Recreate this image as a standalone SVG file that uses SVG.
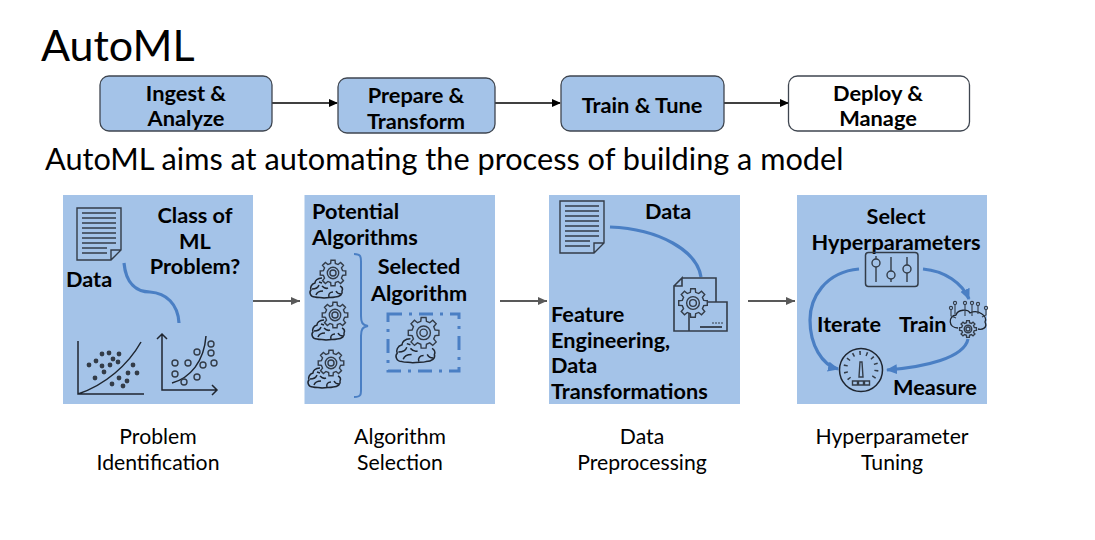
<svg xmlns="http://www.w3.org/2000/svg" xmlns:xlink="http://www.w3.org/1999/xlink" width="1095" height="540" viewBox="0 0 1095 540">
<style>
text{font-family:"Lato","Carlito","Liberation Sans",sans-serif;fill:#000}
.b{font-weight:700;font-size:21.700px}
.s{font-weight:700;font-size:21.800px}
.m{text-anchor:middle}
.c{font-size:21.200px}
.step{fill:#a4c3e8;stroke:#3f4650;stroke-width:1.300}
.panel{fill:#a4c3e8}
.con{fill:none;stroke:#000;stroke-width:1.400}
.con2{fill:none;stroke:#595959;stroke-width:1.800}
.blue{fill:none;stroke:#4a7fc4;stroke-width:3.200}
.ic{fill:none;stroke:#333c48;stroke-width:1.400}
.bk{fill:none;stroke:#1f2630;stroke-width:1.500;vector-effect:non-scaling-stroke}
.g{fill:#a4c3e8;stroke:#333c48;stroke-width:1.400;vector-effect:non-scaling-stroke}
.gn{fill:none;stroke:#333c48;stroke-width:1.400;vector-effect:non-scaling-stroke}
</style>
<defs>
<marker id="ah" markerWidth="9" markerHeight="9" refX="8" refY="4" orient="auto" markerUnits="userSpaceOnUse"><path d="M0 0L9 4L0 8Z" fill="#000"/></marker>
<marker id="ag" markerWidth="10" markerHeight="9" refX="9" refY="4" orient="auto" markerUnits="userSpaceOnUse"><path d="M0 0L9 4L0 8Z" fill="#595959"/></marker>
<marker id="ab" markerWidth="12" markerHeight="11" refX="10" refY="5" orient="auto" markerUnits="userSpaceOnUse"><path d="M0 0L11 5L0 10Z" fill="#4a7fc4"/></marker>
<g id="doc">
<path class="ic" d="M0 0H44V42L34 52H0Z M44 42H34V52"/>
<path class="ic" d="M5 5H39M5 10H39M5 15H39M5 20H39M5 25H39M5 30H39M5 35H39M5 40H30M5 45H30"/>
</g>
<g id="gear">
<path class="g" d="M12.600-3.100L16.800-2.700L16.800 2.700L12.600 3.100L11.100 6.700L13.800 10L10 13.800L6.700 11.100L3.100 12.600L2.700 16.800L-2.700 16.800L-3.100 12.600L-6.700 11.100L-10 13.800L-13.800 10L-11.100 6.700L-12.600 3.100L-16.800 2.700L-16.800-2.700L-12.600-3.100L-11.100-6.700L-13.800-10L-10-13.800L-6.700-11.100L-3.100-12.600L-2.700-16.800L2.700-16.800L3.100-12.600L6.700-11.100L10-13.800L13.800-10L11.100-6.700Z"/>
<circle r="7.500" class="gn"/><circle r="4" class="gn"/>
</g>
<g id="brain">
<path class="bk" d="M12-16C7-16 5-13 5-11C1-10 0-6 1-4C-1-2 0 3 5 3C8 4 12 3 14 4C18 3 22 4 25 3C30 3 33 0 32-3C33-5 32-7 30-8"/>
<path class="bk" d="M2-5C5-5 8-6 9-9M6 1C7-2 10-3 13-3M12-8C14-6 16-5 18-6M19 3C18 0 20-2 23-2M26-3C27-1 29 0 31 0M9-12L12-11"/>
<use xlink:href="#gear" transform="translate(23,-21) scale(.76)"/>
</g>
</defs>

<text x="41" y="61" style="font-size:43px">AutoML</text>
<text x="45" y="170" style="font-size:30.700px">AutoML aims at automating the process of building a model</text>

<g id="connectors">
<path class="con" d="M272 103H337" marker-end="url(#ah)"/>
<path class="con" d="M495 103H560" marker-end="url(#ah)"/>
<path class="con" d="M724 103H788" marker-end="url(#ah)"/>
<path class="con2" d="M253 301H300" marker-end="url(#ag)"/>
<path class="con2" d="M500 301H547" marker-end="url(#ag)"/>
<path class="con2" d="M748 301H795" marker-end="url(#ag)"/>
</g>

<g id="step-ingest"><rect class="step" x="100" y="76" width="172" height="55" rx="9"/>
<text class="s m" x="186" y="100.500">Ingest &amp;</text><text class="s m" x="186" y="126">Analyze</text></g>
<g id="step-prepare"><rect class="step" x="338" y="78" width="157" height="55" rx="9"/>
<text class="s m" x="416" y="102.500">Prepare &amp;</text><text class="s m" x="416" y="128.500">Transform</text></g>
<g id="step-train"><rect class="step" x="561" y="76" width="163" height="55" rx="9"/>
<text class="s m" x="642" y="112.500">Train &amp; Tune</text></g>
<g id="step-deploy"><rect x="788.500" y="76" width="181" height="55" rx="9" fill="#fff" stroke="#3f4650" stroke-width="1.300"/>
<text class="s m" x="878" y="100.500">Deploy &amp;</text><text class="s m" x="878" y="126">Manage</text></g>

<g id="panel-problem">
<rect class="panel" x="63" y="195" width="190" height="209"/>
<use xlink:href="#doc" x="77" y="208"/>
<text class="b m" x="195" y="223">Class of</text><text class="b m" x="195" y="249">ML</text><text class="b m" x="195" y="274">Problem?</text>
<text class="b" x="66" y="287">Data</text>
<path class="blue" d="M124 263C126 284 137 292 150 292C166 293 178 304 179 323"/>
<path d="M78 341V394H144M78 394C105 385 128 365 141 342" fill="none" stroke="#1f2630" stroke-width="1.500"/>
<g fill="#333c48"><circle cx="89" cy="365" r="2.400"/><circle cx="96" cy="361" r="2.400"/><circle cx="102" cy="354" r="2.400"/><circle cx="109" cy="353" r="2.400"/><circle cx="119" cy="354" r="2.400"/><circle cx="113" cy="359" r="2.400"/><circle cx="102" cy="366" r="2.400"/><circle cx="110" cy="365" r="2.400"/><circle cx="118" cy="362" r="2.400"/><circle cx="104" cy="372" r="2.400"/><circle cx="95" cy="378" r="2.400"/><circle cx="133" cy="365" r="2.400"/><circle cx="128" cy="373" r="2.400"/><circle cx="137" cy="373" r="2.400"/><circle cx="119" cy="378" r="2.400"/><circle cx="127" cy="381" r="2.400"/><circle cx="112" cy="384" r="2.400"/><circle cx="123" cy="386" r="2.400"/></g>
<path d="M162 334V390H217M157 339L162 334L167 339M212 385L217 390L212 395M172 383C190 378 204 362 206 336" fill="none" stroke="#1f2630" stroke-width="1.500"/>
<g fill="none" stroke="#333c48" stroke-width="1.400"><circle cx="211" cy="344" r="3"/><circle cx="197" cy="352" r="3"/><circle cx="211" cy="353" r="3"/><circle cx="175" cy="363" r="3"/><circle cx="188" cy="363" r="3"/><circle cx="203" cy="365" r="3"/><circle cx="214" cy="363" r="3"/><circle cx="175" cy="374" r="3"/><circle cx="197" cy="377" r="3"/><circle cx="184" cy="382" r="3"/></g>
</g>

<g id="panel-algorithm">
<rect class="panel" x="304.500" y="195" width="190.500" height="209"/>
<text class="b" x="312" y="219">Potential</text><text class="b" x="312" y="245">Algorithms</text>
<text class="b m" x="419" y="274">Selected</text><text class="b m" x="419" y="301">Algorithm</text>
<use xlink:href="#brain" x="310" y="294"/>
<use xlink:href="#brain" x="312" y="336"/>
<use xlink:href="#brain" x="308" y="384"/>
<path d="M354 254C362 254 361 258 361 265V316C361 322 362 325 368 326C362 327 361 330 361 336V386C361 394 362 397 354 397" fill="none" stroke="#4a7fc4" stroke-width="2"/>
<rect x="388" y="314" width="71" height="57" fill="none" stroke="#4a7fc4" stroke-width="3" stroke-dasharray="14 7 3 7"/>
<use xlink:href="#brain" transform="translate(396,358) scale(1.200)"/>
</g>

<g id="panel-preprocess">
<rect class="panel" x="549" y="195" width="191" height="209"/>
<use xlink:href="#doc" x="560" y="201"/>
<text class="b" x="645" y="219">Data</text>
<path class="blue" d="M610 227C660 229 697 251 701 277"/>
<path class="ic" d="M682 278H716V302M674 286L682 278V286H674V331H689M689 302H727V331H689Z" style="stroke-width:1.600"/>
<use xlink:href="#gear" transform="translate(693,303) scale(.85)"/>
<path class="ic" d="M700 327H722" style="stroke-width:1.800"/><path d="M712 323H723" stroke="#333c48" stroke-width="1" stroke-dasharray="2 1" fill="none"/>
<text class="b" x="551" y="322">Feature</text><text class="b" x="551" y="348">Engineering,</text><text class="b" x="551" y="373">Data</text><text class="b" x="551" y="399">Transformations</text>
</g>

<g id="panel-tuning">
<rect class="panel" x="797" y="195" width="190" height="209"/>
<text class="b m" x="896" y="224">Select</text><text class="b m" x="896" y="250">Hyperparameters</text>
<rect x="865.500" y="252.500" width="52.500" height="34" rx="3" fill="none" stroke="#333c48" stroke-width="1.500"/>
<path class="ic" d="M876 256V259M876 267V282M891 257V271M891 279V282M907 257V265M907 273V282"/><circle class="ic" cx="876" cy="263" r="4"/><circle class="ic" cx="891" cy="275" r="4"/><circle class="ic" cx="907" cy="269" r="4"/>
<path class="blue" d="M859 269C825 272 810 298 810 320C810 345 822 365 838 369" marker-end="url(#ab)"/>
<path class="blue" d="M923 269C945 271 962 283 969 299" marker-end="url(#ab)"/>
<path class="blue" d="M968 339C964 358 925 367 887 370" marker-end="url(#ab)"/>
<text class="b" x="817" y="332">Iterate</text><text class="b" x="899" y="332">Train</text><text class="b" x="893" y="395">Measure</text>
<circle cx="861" cy="370" r="21.500" fill="none" stroke="#1f2630" stroke-width="1.500"/>
<path d="M849.600 379A15.500 15.500 0 1 1 872.400 379" fill="none" stroke="#333c48" stroke-width="4" stroke-dasharray="1.500 5.300"/>
<path class="ic" d="M859 377L860 362H862L863 377Z"/><path class="ic" d="M852.500 381H857.500V385H852.500ZM858.500 381H863.500V385H858.500ZM864.500 381H869.500V385H864.500Z"/>
<path class="bk" d="M958 328C948 328 948 316 956 315C958 309 968 309 970 313C978 309 988 316 985 322C988 328 982 330 978 329" style="stroke-width:1.300"/>
<path class="ic" d="M951 310V316L956 318M955 305V314M965 305V316M972 305V316M978 306V314M986 310V315L982 317" style="stroke-width:1.100"/>
<g fill="none" stroke="#333c48" stroke-width="1.100"><circle cx="951" cy="308" r="1.600"/><circle cx="955" cy="303" r="1.600"/><circle cx="965" cy="303" r="1.600"/><circle cx="972" cy="303" r="1.600"/><circle cx="978" cy="304" r="1.600"/><circle cx="986" cy="308" r="1.600"/></g>
<use xlink:href="#gear" transform="translate(968,329) scale(.5)"/>
</g>

<g id="captions">
<text class="c m" x="158" y="444">Problem</text><text class="c m" x="158" y="470">Identification</text>
<text class="c m" x="400" y="444">Algorithm</text><text class="c m" x="400" y="470">Selection</text>
<text class="c m" x="642" y="444">Data</text><text class="c m" x="642" y="470">Preprocessing</text>
<text class="c m" x="892" y="444">Hyperparameter</text><text class="c m" x="892" y="470">Tuning</text>
</g>
</svg>
